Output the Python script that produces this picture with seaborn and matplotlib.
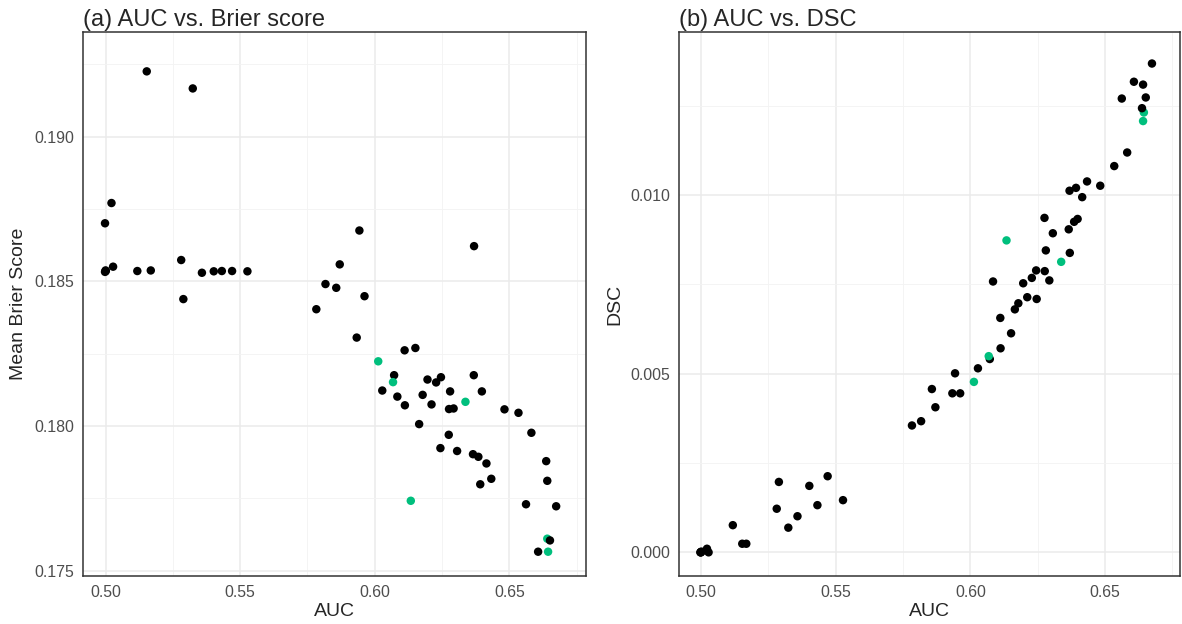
import pandas as pd
import seaborn as sns
import matplotlib.pyplot as plt
from matplotlib.ticker import MultipleLocator, FormatStrFormatter

# One entry per model: AUC, mean Brier score, DSC and whether it is highlighted
auc = [0.4998, 0.5000, 0.5001, 0.4998, 0.5022, 0.5028, 0.5118, 0.5153, 0.5168,
       0.5281, 0.5289, 0.5324, 0.5358, 0.5402, 0.5432, 0.5470, 0.5527,
       0.5783, 0.5817, 0.5857, 0.5870, 0.5943, 0.5962, 0.5933, 0.6369,
       0.6111, 0.6151, 0.6013, 0.6072, 0.6068, 0.6028, 0.6084, 0.6112,
       0.6196, 0.6228, 0.6246, 0.6178, 0.6211, 0.6280, 0.6276, 0.6293,
       0.6368, 0.6398, 0.6337, 0.6165, 0.6275, 0.6244, 0.6306, 0.6365,
       0.6385, 0.6415, 0.6433, 0.6392, 0.6482, 0.6534, 0.6582, 0.6134,
       0.6562, 0.6674, 0.6641, 0.6644, 0.6637, 0.6641, 0.6651, 0.6607]
brier = [0.18533, 0.18538, 0.18536, 0.18701, 0.18771, 0.18551, 0.18536, 0.19226, 0.18538,
         0.18574, 0.18439, 0.19167, 0.18530, 0.18535, 0.18536, 0.18536, 0.18535,
         0.18404, 0.18491, 0.18478, 0.18559, 0.18676, 0.18449, 0.18306, 0.18622,
         0.18262, 0.18270, 0.18224, 0.18176, 0.18152, 0.18123, 0.18102, 0.18072,
         0.18161, 0.18151, 0.18169, 0.18108, 0.18075, 0.18120, 0.18059, 0.18061,
         0.18176, 0.18120, 0.18084, 0.18007, 0.17970, 0.17924, 0.17914, 0.17903,
         0.17894, 0.17871, 0.17818, 0.17799, 0.18058, 0.18046, 0.17977, 0.17742,
         0.17730, 0.17723, 0.17611, 0.17566, 0.17879, 0.17811, 0.17605, 0.17566]
dsc = [0.00000, 0.00000, 0.00002, 0.00000, 0.00010, 0.00000, 0.00076, 0.00024, 0.00024,
       0.00122, 0.00197, 0.00069, 0.00101, 0.00186, 0.00132, 0.00213, 0.00146,
       0.00355, 0.00367, 0.00457, 0.00406, 0.00501, 0.00445, 0.00445, 0.00838,
       0.00656, 0.00613, 0.00477, 0.00541, 0.00549, 0.00515, 0.00758, 0.00571,
       0.00753, 0.00768, 0.00709, 0.00697, 0.00714, 0.00845, 0.00787, 0.00761,
       0.01012, 0.00933, 0.00813, 0.00680, 0.00936, 0.00789, 0.00893, 0.00904,
       0.00925, 0.00994, 0.01038, 0.01020, 0.01026, 0.01081, 0.01119, 0.00873,
       0.01270, 0.01368, 0.01207, 0.01231, 0.01243, 0.01309, 0.01273, 0.01317]
highlight = [0, 0, 0, 0, 0, 0, 0, 0, 0,
             0, 0, 0, 0, 0, 0, 0, 0,
             0, 0, 0, 0, 0, 0, 0, 0,
             0, 0, 1, 0, 1, 0, 0, 0,
             0, 0, 0, 0, 0, 0, 0, 0,
             0, 0, 1, 0, 0, 0, 0, 0,
             0, 0, 0, 0, 0, 0, 0, 1,
             0, 0, 1, 1, 0, 0, 0, 0]

df = pd.DataFrame({'AUC': auc, 'Brier': brier, 'DSC': dsc, 'highlight': highlight})

sns.set_style('white')
plt.rcParams['font.family'] = ['Liberation Sans', 'DejaVu Sans']

fig = plt.figure(figsize=(11.82, 6.24), dpi=100)
ax1 = fig.add_axes([0.0702, 0.0769, 0.4256, 0.8718])
ax2 = fig.add_axes([0.5745, 0.0769, 0.4239, 0.8718])

palette = {0: 'black', 1: '#00BF7D'}


def style_axis(ax, title, ylabel, xlim, ylim):
    ax.set_xlim(*xlim)
    ax.set_ylim(*ylim)
    ax.xaxis.set_major_locator(MultipleLocator(0.05))
    ax.xaxis.set_minor_locator(MultipleLocator(0.025))
    ax.yaxis.set_major_locator(MultipleLocator(0.005))
    ax.yaxis.set_minor_locator(MultipleLocator(0.0025))
    ax.xaxis.set_major_formatter(FormatStrFormatter('%.2f'))
    ax.yaxis.set_major_formatter(FormatStrFormatter('%.3f'))
    ax.grid(which='major', color='#EBEBEB', lw=1.1)
    ax.grid(which='minor', color='#F3F3F3', lw=0.6)
    ax.set_axisbelow(True)
    for s in ax.spines.values():
        s.set_color('#333333')
        s.set_linewidth(1.1)
    ax.tick_params(which='major', length=2.9, width=0.8, color='#333333',
                   labelcolor='#4D4D4D', labelsize=11.4, pad=3.5)
    ax.tick_params(which='minor', length=0)
    ax.set_xlabel('AUC', fontsize=14, labelpad=2)
    ax.set_ylabel(ylabel, fontsize=14, labelpad=5)
    ax.set_title(title, loc='left', fontsize=17, pad=4)


sns.scatterplot(data=df, x='AUC', y='Brier', hue='highlight', palette=palette,
                s=37, linewidth=0, legend=False, ax=ax1)
style_axis(ax1, '(a) AUC vs. Brier score', 'Mean Brier Score',
           (0.49161, 0.67850), (0.17482, 0.19362))

sns.scatterplot(data=df, x='AUC', y='DSC', hue='highlight', palette=palette,
                s=37, linewidth=0, legend=False, ax=ax2)
style_axis(ax2, '(b) AUC vs. DSC', 'DSC',
           (0.49184, 0.67785), (-0.000663, 0.014562))

fig.savefig('out.png', dpi=100)
